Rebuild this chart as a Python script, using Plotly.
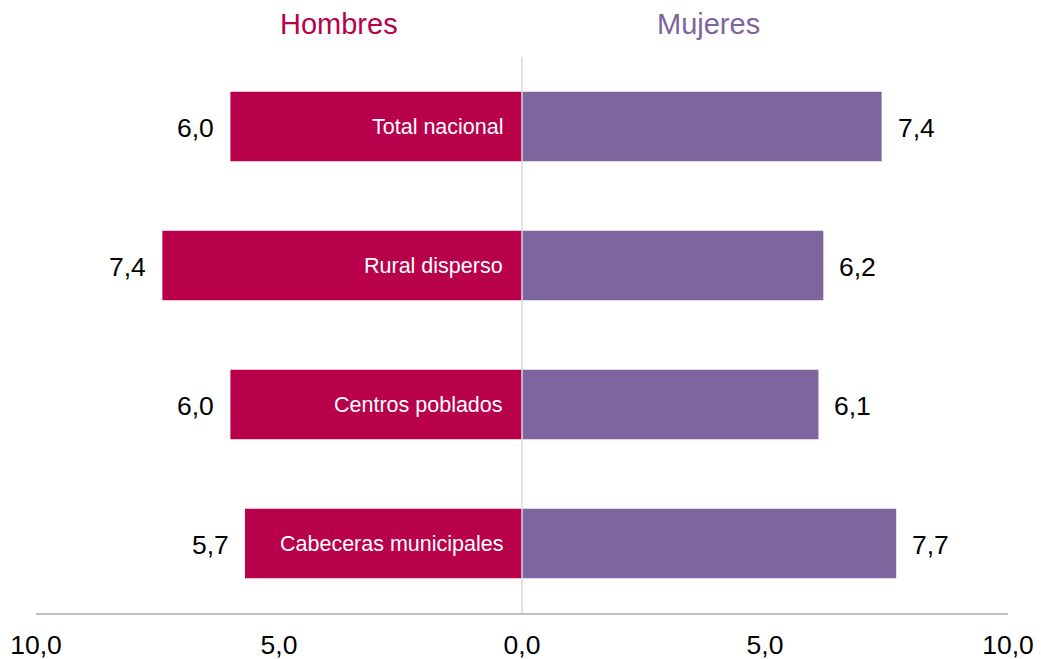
import plotly.graph_objects as go

# data
categories = ['Total nacional', 'Rural disperso', 'Centros poblados', 'Cabeceras municipales']
hombres = [6.0, 7.4, 6.0, 5.7]
mujeres = [7.4, 6.2, 6.1, 7.7]
tick_vals = [-10, -5, 0, 5, 10]
tick_text = ['10,0', '5,0', '0,0', '5,0', '10,0']

color_h = '#B8004B'
color_m = '#7F659E'
font_family = 'Liberation Sans, Arial, sans-serif'


def fmt(v):
    return f'{v:.1f}'.replace('.', ',')


fig = go.Figure()
fig.add_trace(go.Bar(y=categories, x=[-v for v in hombres], orientation='h',
                     marker=dict(color=color_h, line=dict(width=0)), name='Hombres',
                     width=0.5, hoverinfo='skip'))
fig.add_trace(go.Bar(y=categories, x=mujeres, orientation='h',
                     marker=dict(color=color_m, line=dict(width=0)), name='Mujeres',
                     width=0.5, hoverinfo='skip'))

annotations = []
for cat, h, m in zip(categories, hombres, mujeres):
    # category name inside the men's bar, next to zero
    annotations.append(dict(x=0, y=cat, xref='x', yref='y', text=cat, showarrow=False,
                            xanchor='right', xshift=-17,
                            font=dict(color='white', size=21.5, family=font_family)))
    annotations.append(dict(x=-h, y=cat, xref='x', yref='y', text=fmt(h), showarrow=False,
                            xanchor='right', xshift=-14, yshift=-1,
                            font=dict(color='black', size=26.5, family=font_family)))
    annotations.append(dict(x=m, y=cat, xref='x', yref='y', text=fmt(m), showarrow=False,
                            xanchor='left', xshift=14, yshift=-1,
                            font=dict(color='black', size=26.5, family=font_family)))

annotations.append(dict(x=-3.77, y=1.06, xref='x', yref='paper', text='Hombres', showarrow=False,
                        yanchor='middle', font=dict(color=color_h, size=29, family=font_family)))
annotations.append(dict(x=3.83, y=1.06, xref='x', yref='paper', text='Mujeres', showarrow=False,
                        yanchor='middle', font=dict(color=color_m, size=29, family=font_family)))

# page has an 8px body margin, so the figure is offset by 8px
fig.update_layout(
    width=1033, height=651,
    margin=dict(l=28, r=33, t=49, b=46),
    barmode='overlay',
    showlegend=False,
    plot_bgcolor='white',
    paper_bgcolor='white',
    annotations=annotations,
    font=dict(family=font_family, color='black'),
)
fig.update_xaxes(range=[-10, 10], tickvals=tick_vals, ticktext=tick_text, automargin=False,
                 showgrid=False, zeroline=False, showline=True, linecolor='#BFBFBF', linewidth=2,
                 ticks='', tickfont=dict(size=26.5, family=font_family), ticklabelstandoff=7)
fig.update_yaxes(categoryorder='array', categoryarray=categories, autorange='reversed',
                 automargin=False,
                 showticklabels=False, showgrid=False, zeroline=False, showline=False)
fig.add_shape(type='line', x0=0, x1=0, y0=0, y1=1, xref='x', yref='paper',
              line=dict(color='#D9D9D9', width=1.5), layer='above')

fig.write_html('out.html')
